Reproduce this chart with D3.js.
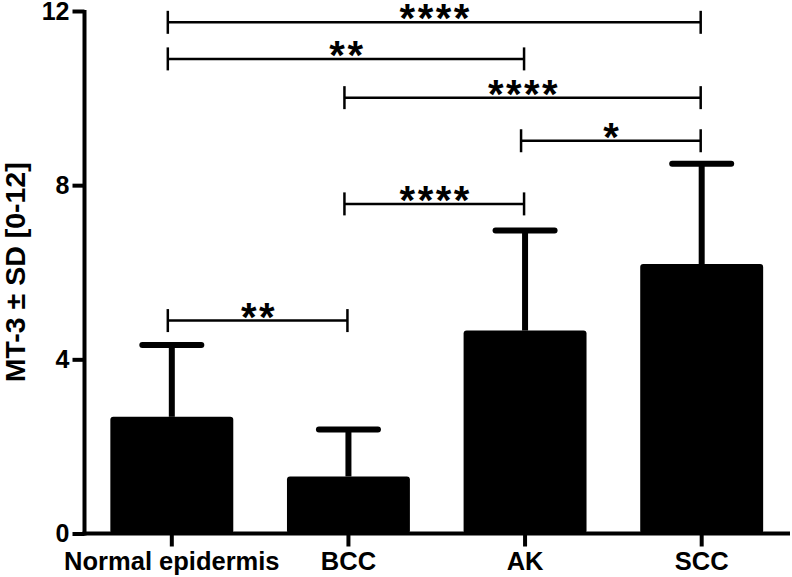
<!DOCTYPE html>
<html>
<head>
<meta charset="utf-8">
<script src="https://cdn.jsdelivr.net/npm/d3@7"></script>
<style>
  html, body { margin: 0; padding: 0; background: #fff; }
  svg { display: block; }
  text { font-family: "Liberation Sans", Arial, sans-serif; font-weight: bold; fill: #000; }
</style>
</head>
<body>
<svg id="chart" width="792" height="577"></svg>
<script>
// ---- data ----
const categories = ["Normal epidermis", "BCC", "AK", "SCC"];
const means = [2.68, 1.31, 4.66, 6.19];
const sds = [1.65, 1.08, 2.30, 2.30];
const yTicks = [0, 4, 8, 12];
const yLabel = "MT-3 \u00B1 SD [0-12]";
// significance brackets: from category, to category, height (data units), label
const bracketFrom = ["Normal epidermis", "Normal epidermis", "BCC", "AK", "BCC", "Normal epidermis"];
const bracketTo = ["SCC", "AK", "SCC", "SCC", "AK", "BCC"];
const bracketY = [11.74, 10.90, 10.01, 9.02, 7.57, 4.89];
const bracketLabel = ["****", "**", "****", "*", "****", "**"];

// ---- layout ----
const svg = d3.select("#chart");
const axisX = 84.5, axisY = 533.5, plotRight = 790, plotTop = 11;

const x = d3.scaleBand().domain(categories).range([axisX - 1, plotRight])
  .paddingInner(0.304).paddingOuter(0.152);
const y = d3.scaleLinear().domain([0, 12]).range([axisY, plotTop]);

// bars
svg.append("g").selectAll("rect").data(categories).join("rect")
  .attr("x", d => x(d))
  .attr("y", (d, i) => y(means[i]))
  .attr("width", x.bandwidth())
  .attr("height", (d, i) => y(0) - y(means[i]))
  .attr("rx", 3)
  .attr("fill", "#000");

// error bars
const eb = svg.append("g").attr("stroke", "#000").attr("stroke-width", 6).attr("stroke-linecap", "round");
categories.forEach((c, i) => {
  const cx = x(c) + x.bandwidth() / 2;
  eb.append("line").attr("x1", cx).attr("x2", cx)
    .attr("y1", y(means[i])).attr("y2", y(means[i] + sds[i])).attr("stroke-linecap", "butt");
  eb.append("line").attr("x1", cx - 29.5).attr("x2", cx + 29.5)
    .attr("y1", y(means[i] + sds[i])).attr("y2", y(means[i] + sds[i]));
});

// y axis
const yAxis = d3.axisLeft(y).tickValues(yTicks).tickSize(12).tickPadding(3).tickFormat(d3.format("d"));
const gy = svg.append("g").attr("transform", `translate(${axisX},0)`).call(yAxis);
gy.select(".domain").remove();
gy.append("line").attr("x1", 0).attr("x2", 0).attr("y1", y(12) - 1).attr("y2", y(0) + 2)
  .attr("stroke", "#000").attr("stroke-width", 4);
gy.selectAll(".tick line").attr("stroke", "#000").attr("stroke-width", 4);
gy.selectAll(".tick text").attr("font-size", 25).attr("font-weight", "bold")
  .attr("font-family", "'Liberation Sans', Arial, sans-serif").attr("fill", "#000");

// x axis
const xAxis = d3.axisBottom(x).tickSize(13).tickPadding(8);
const gx = svg.append("g").attr("transform", `translate(0,${axisY})`).call(xAxis);
gx.select(".domain").remove();
gx.append("line").attr("x1", axisX - 2).attr("x2", plotRight).attr("y1", 0).attr("y2", 0)
  .attr("stroke", "#000").attr("stroke-width", 4);
gx.selectAll(".tick line").attr("stroke", "#000").attr("stroke-width", 4);
gx.selectAll(".tick text").attr("font-size", 25.5).attr("font-weight", "bold")
  .attr("font-family", "'Liberation Sans', Arial, sans-serif").attr("fill", "#000")
  .attr("y", 36.5).attr("dy", 0);

// y label
svg.append("text")
  .attr("transform", `translate(25,${(y(0) + y(12)) / 2}) rotate(-90)`)
  .attr("text-anchor", "middle")
  .attr("font-size", 28.5)
  .text(yLabel);

// brackets
const br = svg.append("g");
bracketY.forEach((v, i) => {
  const x1 = x(bracketFrom[i]) + x.bandwidth() / 2 - 4;
  const x2 = x(bracketTo[i]) + x.bandwidth() / 2 - 1;
  const yy = y(v);
  const g = br.append("g").attr("stroke", "#000").attr("stroke-width", 2.5);
  g.append("line").attr("x1", x1).attr("x2", x2).attr("y1", yy).attr("y2", yy);
  g.append("line").attr("x1", x1).attr("x2", x1).attr("y1", yy - 11.5).attr("y2", yy + 11.5);
  g.append("line").attr("x1", x2).attr("x2", x2).attr("y1", yy - 11.5).attr("y2", yy + 11.5);
  br.append("text")
    .attr("x", (x1 + x2) / 2 + 1.5)
    .attr("y", yy + 10)
    .attr("text-anchor", "middle")
    .attr("font-size", 40)
    .attr("letter-spacing", 2.5)
    .text(bracketLabel[i]);
});
</script>
</body>
</html>
